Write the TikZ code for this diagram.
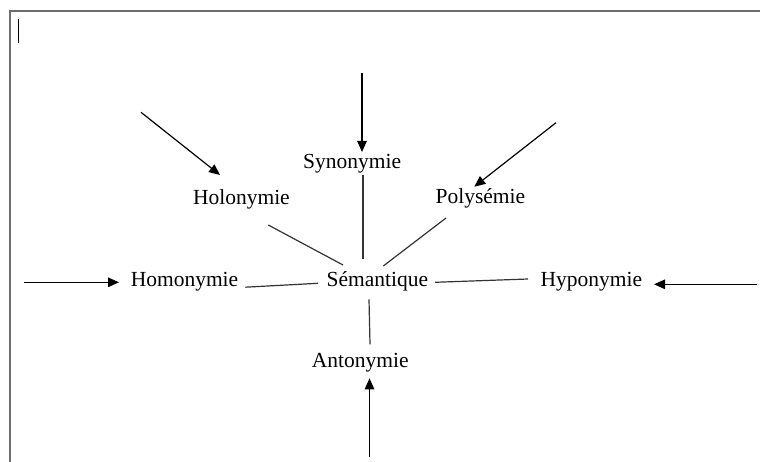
\documentclass[tikz,border=0pt]{standalone}
\usepackage{fontspec}
\setmainfont{Liberation Serif}
\usetikzlibrary{arrows.meta,calc}
\begin{document}
\begin{tikzpicture}[x=1pt,y=-1pt,
  term/.style={anchor=base,inner sep=0pt,font=\fontsize{21.5}{24}\selectfont},
  link/.style={line width=1.2pt,black!80},
  feed/.style={line width=1.2pt,black,-{Triangle[length=11pt,width=9.5pt]}},
  frame/.style={line width=2pt,black!57}]
\useasboundingbox (0,0) rectangle (760,462);
\fill[white] (0,0) rectangle (760,462);

% page frame and text cursor
\draw[frame] (10,462) -- (10,10.8) -- (760,10.8);
\draw[line width=1.3pt] (18.7,19) -- (18.7,42.7);

% terms
\node[term] (sem)  at (377.3,287)   {Sémantique};
\node[term] (syn)  at (352.2,169)   {Synonymie};
\node[term] (holo) at (241.4,204.3) {Holonymie};
\node[term] (poly) at (480.4,203.3) {Polysémie};
\node[term] (homo) at (184.5,286.7) {Homonymie};
\node[term] (hypo) at (591.3,286.7) {Hyponymie};
\node[term] (anto) at (360.3,367.3) {Antonymie};

% links to the central term
\draw[link] ($(holo.base)+(26.9,20.7)$) -- ($(sem.base)+(-34.3,-22)$);
\draw[link] ($(syn.base)+(10.8,6)$) -- ($(sem.base)+(-14.3,-28)$);
\draw[link] ($(poly.base)+(-34.4,14.7)$) -- ($(sem.base)+(6,-21)$);
\draw[link] ($(homo.base)+(60.8,0.5)$) -- ($(sem.base)+(-59.3,-3.7)$);
\draw[link] ($(sem.base)+(57.7,-4.7)$) -- ($(hypo.base)+(-63.3,-7.7)$);
\draw[link] ($(sem.base)+(-8.3,12.3)$) -- ($(anto.base)+(9.7,-23)$);

% incoming arrows
\coordinate (inSyn)  at (362,73);
\coordinate (inHolo) at (141,112.3);
\coordinate (inPoly) at (556,122.7);
\coordinate (inHomo) at (24,282.3);
\coordinate (inHypo) at (757,284.3);
\coordinate (inAnto) at (369.5,456.7);

\draw[feed] (inSyn)  -- ($(syn.base)+(9.8,-17)$);
\draw[feed] (inHolo) -- ($(holo.base)+(-21.4,-29.3)$);
\draw[feed] (inPoly) -- ($(poly.base)+(-6.1,-16.6)$);
\draw[feed] (inHomo) -- ($(homo.base)+(-65.5,-4.4)$);
\draw[feed] (inHypo) -- ($(hypo.base)+(62.7,-2.4)$);
\draw[feed] (inAnto) -- ($(anto.base)+(9.2,11)$);
\end{tikzpicture}
\end{document}
